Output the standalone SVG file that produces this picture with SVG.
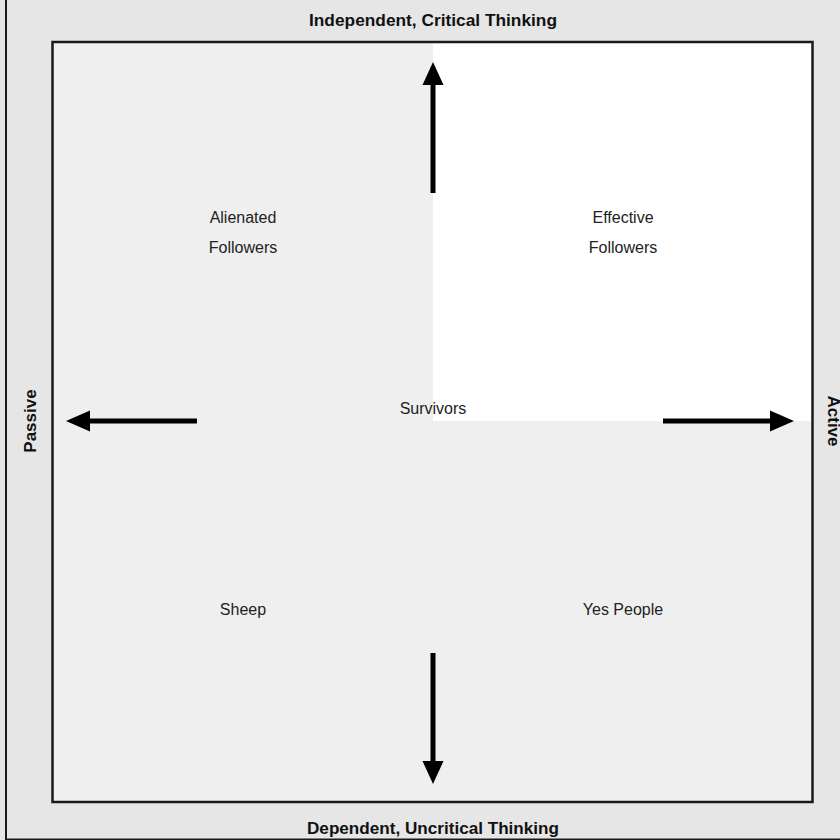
<svg xmlns="http://www.w3.org/2000/svg" width="840" height="840" viewBox="0 0 840 840">
  <style>
    .axis { font-family: "Liberation Sans", Arial, sans-serif; font-weight: bold; font-size: 17px; fill: #111; }
    .lbl { font-family: "Liberation Sans", Arial, sans-serif; font-size: 16px; fill: #222; }
    .shaft { stroke: #000; stroke-width: 5; fill: none; }
    .head { fill: #000; }
  </style>
  <rect x="0" y="0" width="840" height="840" fill="#e6e6e6"/>
  <rect id="frame" x="6" y="-5" width="850" height="844.5" fill="#e6e6e6" stroke="#1a1a1a" stroke-width="2"/>
  <g id="field">
    <rect x="52.5" y="42" width="760" height="760" fill="#efefef"/>
    <rect x="433" y="42" width="379.5" height="379" fill="#ffffff"/>
    <rect x="52.5" y="42" width="760" height="760" fill="none" stroke="#1a1a1a" stroke-width="2.5"/>
  </g>
  <g id="axis-top"><text class="axis" x="433" y="26" text-anchor="middle" textLength="248" lengthAdjust="spacingAndGlyphs">Independent, Critical Thinking</text></g>
  <g id="axis-bottom"><text class="axis" x="433" y="834" text-anchor="middle" textLength="252" lengthAdjust="spacingAndGlyphs">Dependent, Uncritical Thinking</text></g>
  <g id="axis-left"><text class="axis" transform="translate(36,421) rotate(-90)" text-anchor="middle">Passive</text></g>
  <g id="axis-right"><text class="axis" transform="translate(828,421) rotate(90)" text-anchor="middle">Active</text></g>
  <g id="alienated"><text class="lbl" x="243" y="223" text-anchor="middle">Alienated</text><text class="lbl" x="243" y="253" text-anchor="middle">Followers</text></g>
  <g id="effective"><text class="lbl" x="623" y="223" text-anchor="middle">Effective</text><text class="lbl" x="623" y="253" text-anchor="middle">Followers</text></g>
  <g id="survivors"><text class="lbl" x="433" y="414" text-anchor="middle">Survivors</text></g>
  <g id="sheep"><text class="lbl" x="243" y="615" text-anchor="middle">Sheep</text></g>
  <g id="yes-people"><text class="lbl" x="623" y="615" text-anchor="middle">Yes People</text></g>
  <g id="connectors">
    <line class="shaft" x1="433" y1="193" x2="433" y2="84"/>
    <polygon class="head" points="433,62 443.5,85 422.5,85"/>
    <line class="shaft" x1="433" y1="653" x2="433" y2="763"/>
    <polygon class="head" points="433,784 443.5,761 422.5,761"/>
    <line class="shaft" x1="197" y1="421" x2="88" y2="421"/>
    <polygon class="head" points="66,421 90,410.5 90,431.5"/>
    <line class="shaft" x1="663" y1="421" x2="772" y2="421"/>
    <polygon class="head" points="794,421 770,410.5 770,431.5"/>
  </g>
</svg>
